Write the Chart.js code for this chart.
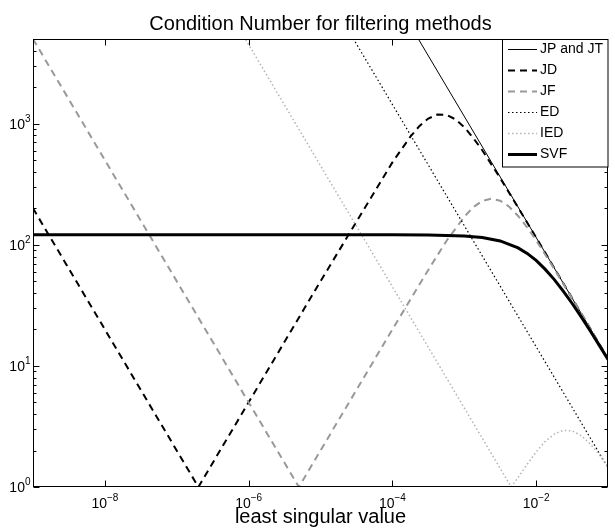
<!DOCTYPE html>
<html lang="en">
<head>
<meta charset="UTF-8">
<title>Condition Number for filtering methods</title>
<script src="https://cdn.jsdelivr.net/npm/chart.js@4.4.1/dist/chart.umd.min.js"></script>
<style>
  html, body { margin: 0; padding: 0; background: #ffffff; }
  #wrap { width: 615px; height: 529px; }
</style>
</head>
<body>
<div id="wrap"><canvas id="condChart" width="615" height="529"></canvas></div>
<script>
// least singular value (x) -> condition number (y)
const jpX = [2e-4, 1e-1];
const jpY = [5750, 11.5];

const jdX = [1e-9, 2e-7, 1e-6, 1e-5, 1e-4, 1.78e-4, 2.37e-4, 3.16e-4, 4.22e-4, 5.62e-4, 7.5e-4, 1e-3, 1.33e-3, 1.78e-3, 3.16e-3, 5.62e-3, 1e-2, 1e-1];
const jdY = [200, 1, 5, 50, 479, 781, 953, 1102, 1189, 1184, 1088, 935, 763, 603, 356, 203, 115, 11.5];

const jfX = [1e-9, 5e-6, 1e-5, 1e-4, 3.16e-4, 5.62e-4, 1e-3, 1.33e-3, 1.78e-3, 2.37e-3, 3.16e-3, 4.22e-3, 5.62e-3, 7.5e-3, 1e-2, 1.78e-2, 3.16e-2, 1e-1];
const jfY = [5000, 1, 2, 20, 62, 107, 170, 204, 230, 240, 231, 206, 173, 139, 109, 63.4, 36.2, 11.5];

const edX = [2.5e-5, 1e-1];
const edY = [5760, 1.44];

const iedX = [8e-7, 4.5e-3, 5.62e-3, 7.5e-3, 1e-2, 1.33e-2, 1.78e-2, 2.37e-2, 3.16e-2, 4.22e-2, 5.62e-2, 7.5e-2, 1e-1];
const iedY = [5625, 1, 1.2, 1.54, 1.95, 2.37, 2.73, 2.93, 2.91, 2.66, 2.28, 1.86, 1.47];

const svfX = [1e-9, 1e-4, 3.16e-4, 1e-3, 1.78e-3, 3.16e-3, 5.62e-3, 7.5e-3, 1e-2, 1.33e-2, 1.78e-2, 2.37e-2, 3.16e-2, 4.22e-2, 5.62e-2, 7.5e-2, 1e-1];
const svfY = [121, 121, 120.5, 118.3, 114.9, 107.6, 94.3, 84.9, 74.3, 62.9, 51.8, 41.7, 32.9, 25.5, 19.6, 14.9, 11.3];

const seriesNames = ["JP and JT", "JD", "JF", "ED", "IED", "SVF"];

const xTicks = [1e-8, 1e-6, 1e-4, 1e-2];
const xTickExp = ["\u22128", "\u22126", "\u22124", "\u22122"];
const yTicks = [1, 10, 100, 1000];
const yTickExp = ["0", "1", "2", "3"];

const FONT = "'Liberation Sans', Arial, Helvetica, sans-serif";

function pts(xs, ys) {
  return xs.map((v, i) => ({ x: v, y: ys[i] }));
}

// "10" with a raised exponent, like the matlab tick labels
function drawPower(ctx, exp, x, y, align) {
  ctx.font = "14px " + FONT;
  const wBase = ctx.measureText("10").width;
  ctx.font = "10px " + FONT;
  const wExp = ctx.measureText(exp).width;
  const left = align === "center" ? x - (wBase + wExp) / 2 : x - wBase - wExp;
  ctx.textAlign = "left";
  ctx.textBaseline = "alphabetic";
  ctx.font = "14px " + FONT;
  ctx.fillText("10", left, y);
  ctx.font = "10px " + FONT;
  ctx.fillText(exp, left + wBase, y - 7);
}

const axesBox = {
  id: "axesBox",
  afterDraw(chart) {
    const { ctx, chartArea: a } = chart;
    const xs = chart.scales.x, ys = chart.scales.y;
    const L = Math.round(a.left) + 0.5, R = Math.round(a.right) - 0.5;
    const T = Math.round(a.top) + 0.5, B = Math.round(a.bottom) - 0.5;
    ctx.save();
    ctx.strokeStyle = "#000";
    ctx.lineWidth = 1;
    ctx.setLineDash([]);
    ctx.strokeRect(L, T, R - L, B - T);

    // inward ticks on all four sides
    ctx.beginPath();
    xTicks.forEach(v => {
      const px = Math.round(xs.getPixelForValue(v)) + 0.5;
      ctx.moveTo(px, B); ctx.lineTo(px, B - 6);
      ctx.moveTo(px, T); ctx.lineTo(px, T + 6);
    });
    for (let dec = 1; dec <= 1000; dec *= 10) {
      for (let m = 1; m < 10; m++) {
        const v = dec * m;
        if (v >= ys.max) continue;
        const len = m === 1 ? 6 : 3;
        const py = Math.round(ys.getPixelForValue(v)) + 0.5;
        ctx.moveTo(L, py); ctx.lineTo(L + len, py);
        ctx.moveTo(R, py); ctx.lineTo(R - len, py);
      }
    }
    ctx.stroke();

    // tick labels
    ctx.fillStyle = "#000";
    xTicks.forEach((v, i) => drawPower(ctx, xTickExp[i], xs.getPixelForValue(v), B + 21, "center"));
    yTicks.forEach((v, i) => drawPower(ctx, yTickExp[i], L - 3, ys.getPixelForValue(v) + 5, "right"));

    // legend box, top right inside the axes
    const bx = 502, by = T, bw = R - bx, bh = 167 - T;
    ctx.fillStyle = "#fff";
    ctx.fillRect(bx + 0.5, by, bw, bh);
    ctx.strokeRect(bx + 0.5, by, bw, bh);
    chart.data.datasets.forEach((ds, i) => {
      const ry = by + 10 + i * 21;
      ctx.beginPath();
      ctx.strokeStyle = ds.borderColor;
      ctx.lineWidth = ds.borderWidth;
      ctx.setLineDash(ds.borderDash || []);
      ctx.moveTo(bx + 6, ry);
      ctx.lineTo(bx + 35, ry);
      ctx.stroke();
      ctx.setLineDash([]);
      ctx.fillStyle = "#000";
      ctx.font = "14px " + FONT;
      ctx.textAlign = "left";
      ctx.textBaseline = "middle";
      ctx.fillText(ds.label, bx + 38, ry);
    });
    ctx.restore();
  }
};

const common = { showLine: true, pointRadius: 0, tension: 0, fill: false };

new Chart(document.getElementById("condChart"), {
  type: "scatter",
  data: {
    datasets: [
      { ...common, label: seriesNames[0], data: pts(jpX, jpY), borderColor: "#000000", borderWidth: 1, order: 6 },
      { ...common, label: seriesNames[1], data: pts(jdX, jdY), borderColor: "#000000", borderWidth: 2, borderDash: [7, 5], order: 5 },
      { ...common, label: seriesNames[2], data: pts(jfX, jfY), borderColor: "#999999", borderWidth: 2, borderDash: [7, 5], order: 4 },
      { ...common, label: seriesNames[3], data: pts(edX, edY), borderColor: "#000000", borderWidth: 1.2, borderDash: [1.5, 2.5], order: 3 },
      { ...common, label: seriesNames[4], data: pts(iedX, iedY), borderColor: "#b4b4b4", borderWidth: 1.5, borderDash: [1.5, 2.5], order: 2 },
      { ...common, label: seriesNames[5], data: pts(svfX, svfY), borderColor: "#000000", borderWidth: 3, order: 1 }
    ]
  },
  options: {
    responsive: false,
    devicePixelRatio: 1,
    animation: false,
    events: [],
    layout: { padding: { left: 33, right: 7, top: 0, bottom: 0 } },
    plugins: {
      legend: { display: false },
      tooltip: { enabled: false },
      title: {
        display: true,
        text: "Condition Number for filtering methods",
        color: "#000",
        font: { family: FONT, size: 20, weight: "normal" },
        padding: { top: 12.5, bottom: 2.5 }
      }
    },
    scales: {
      x: {
        type: "logarithmic",
        min: 1e-9,
        max: 1e-1,
        ticks: { display: false },
        grid: { display: false, drawTicks: false },
        border: { display: false },
        title: {
          display: true,
          text: "least singular value",
          color: "#000",
          font: { family: FONT, size: 20, lineHeight: 1 },
          padding: { top: 20.5, bottom: 1.5 }
        }
      },
      y: {
        type: "logarithmic",
        display: false,
        min: 1,
        max: 5000
      }
    }
  },
  plugins: [axesBox]
});
</script>
</body>
</html>
